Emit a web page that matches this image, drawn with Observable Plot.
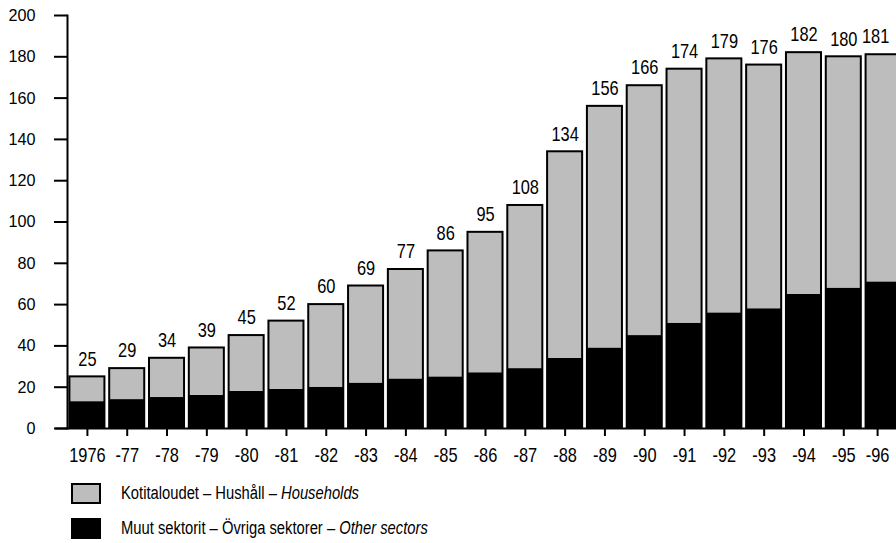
<!DOCTYPE html>
<html><head><meta charset="utf-8">
<script src="https://cdn.jsdelivr.net/npm/d3@7"></script>
<script src="https://cdn.jsdelivr.net/npm/@observablehq/plot@0.6"></script>
<style>
html,body{margin:0;padding:0;background:#fff;overflow:hidden;}
#wrap{position:relative;width:896px;height:543px;overflow:hidden;font-family:"Liberation Sans",Arial,sans-serif;color:#000;}
#chart svg{display:block;max-width:none !important;}
.item{position:absolute;left:71px;height:20px;display:flex;align-items:center;font-size:18px;white-space:nowrap;}
.box{width:26px;height:17px;border:2px solid #000;margin-right:20px;flex:none;}
.lab{display:inline-block;transform:scaleX(0.82);transform-origin:left center;}
</style>
</head><body>
<div id="wrap">
<div id="chart"></div>
<div class="item" style="top:483px"><span class="box" style="background:#bdbdbd"></span><span class="lab">Kotitaloudet – Hushåll – <i>Households</i></span></div>
<div class="item" style="top:518px"><span class="box" style="background:#000"></span><span class="lab">Muut sektorit – Övriga sektorer – <i>Other sectors</i></span></div>
</div>
<script>
const years = ["1976","-77","-78","-79","-80","-81","-82","-83","-84","-85","-86","-87","-88","-89","-90","-91","-92","-93","-94","-95","-96"];
const totals = [25,29,34,39,45,52,60,69,77,86,95,108,134,156,166,174,179,176,182,180,181];
const otherSectors = [13,14,15,16,18,19,20,22,24,25,27,29,34,39,45,51,56,58,65,68,71];
const households = totals.map((t,i)=>t-otherSectors[i]);
const yTicks = [0,20,40,60,80,100,120,140,160,180,200];

const data = years.map((year,i)=>({year, total: totals[i], other: otherSectors[i], households: households[i]}));
const lastYear = years[years.length - 1];

const font = '"Liberation Sans",Arial,sans-serif';
const chart = Plot.plot({
  width: 904, height: 462,
  marginLeft: 67, marginRight: 1, marginTop: 15, marginBottom: 34,
  style: {fontFamily: font, fontSize: "20px", color: "#000", background: "#fff", overflow: "visible"},
  x: {domain: years, paddingInner: 0.12, paddingOuter: 0.06, round: false, label: null},
  y: {domain: [0, 200], label: null},
  marks: [
    Plot.barY(data, {x: "year", y1: 0, y2: "other", fill: "#000"}),
    Plot.barY(data, {x: "year", y1: "other", y2: "total", fill: "#bdbdbd"}),
    Plot.barY(data, {x: "year", y1: 0, y2: "total", fill: "none", stroke: "#000", strokeWidth: 2}),
    Plot.text(data, {filter: d => d.year !== lastYear, x: "year", y: "total", text: d => String(d.total), dy: -18, fontSize: 21, fill: "#000", className: "cond"}),
    Plot.text(data, {filter: d => d.year === lastYear, x: "year", y: "total", text: d => String(d.total), dy: -18, dx: -8, fontSize: 21, fill: "#000", className: "cond"}),
    Plot.ruleY([0], {insetLeft: -12, strokeWidth: 2, stroke: "#000"}),
    Plot.frame({anchor: "left", strokeWidth: 2, stroke: "#000"}),
    Plot.axisY({ticks: yTicks, tickSize: 13, tickPadding: 19, fontSize: 17, strokeWidth: 2, label: null, tickFormat: d => String(d), className: "ycond"}),
    Plot.axisX({ticks: years.slice(0, -1), tickSize: 8, tickPadding: 11, fontSize: 21, strokeWidth: 2, label: null, className: "cond"}),
    Plot.axisX({ticks: [lastYear], tickSize: 8, tickPadding: 11, fontSize: 21, strokeWidth: 2, label: null, dx: -6, className: "cond"})
  ]
});
document.getElementById("chart").appendChild(chart);
// condense glyphs horizontally (narrow typeface look)
function condense(sel, f) {
  chart.querySelectorAll(sel).forEach(t => {
    const len = t.getComputedTextLength();
    if (len > 0) { t.setAttribute("textLength", (len * f).toFixed(2)); t.setAttribute("lengthAdjust", "spacingAndGlyphs"); }
  });
}
condense("g.cond text", 0.78);
condense("g.ycond text", 0.95);
</script>
</body></html>
